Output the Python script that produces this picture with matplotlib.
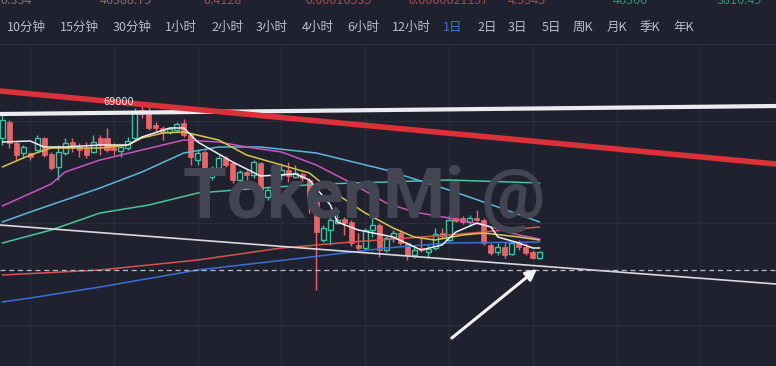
import matplotlib
matplotlib.use('Agg')
import matplotlib.pyplot as plt
from matplotlib.patches import Rectangle
from matplotlib.lines import Line2D
import numpy as np

W, H, DPI = 776, 366, 100
BG = '#20212e'
CJK = ['Noto Sans CJK SC', 'DejaVu Sans']

# ---------------- data ----------------
opens = [65500, 67100, 65000, 64000, 64000, 64300, 65500, 63900, 62600, 64000,
         65100, 64600, 64500, 64100, 65500, 65500, 64600, 64200, 64500, 65500,
         68300, 68000, 66800, 66500, 66100, 66300, 67000, 65800, 63300, 64100,
         61600, 62500, 63500, 63000, 61300, 62100, 61800, 63000, 59600, 60300,
         61800, 62300, 61600, 61900, 61300, 59500, 55300, 56300, 57000, 57400,
         57100, 54800, 54500, 56300, 56800, 54300, 55500, 56000, 55000, 53800,
         54500, 54100, 54500, 56000, 55300, 57500, 57500, 57100, 57500, 57300,
         54800, 54100, 54600, 53900, 55000, 54600, 54100, 53500]
highs = [67800, 67300, 65100, 64800, 64100, 65800, 65600, 64100, 64800, 65500,
         65500, 65000, 65100, 65800, 65800, 66500, 65000, 64800, 65600, 68500,
         69100, 68900, 67100, 66700, 66600, 67100, 67400, 66000, 64300, 64300,
         62700, 63800, 63700, 63100, 62300, 62300, 63300, 63100, 60600, 62300,
         63000, 63100, 62800, 62100, 61500, 59600, 56800, 58300, 58300, 57600,
         57300, 56000, 56500, 57500, 57000, 55700, 56300, 56300, 55100, 54800,
         55500, 54800, 56500, 56500, 57800, 58300, 57700, 57800, 58300, 57500,
         55000, 55000, 55100, 55200, 55300, 55000, 54300, 54200]
lows = [64800, 64500, 63300, 63500, 63300, 64200, 63600, 62300, 61300, 63800,
        64100, 63600, 63500, 64000, 63800, 64100, 63800, 63600, 64300, 65300,
        67500, 66300, 66100, 65300, 65900, 66100, 65600, 62800, 62800, 61500,
        61300, 61800, 62600, 61000, 61100, 61300, 61500, 59800, 59300, 60000,
        61300, 61100, 61500, 61100, 58000, 50300, 55100, 54800, 56900, 55800,
        54700, 54300, 54300, 55600, 53600, 54100, 55100, 54800, 53300, 53500,
        54100, 53500, 54300, 55500, 55100, 57100, 56900, 56800, 57200, 54800,
        53800, 53800, 53500, 53800, 54300, 53800, 53400, 53400]
closes = [67300, 65000, 63800, 64600, 63600, 65500, 63800, 62500, 64100, 65000,
          64600, 64300, 63800, 65100, 64800, 64300, 64300, 64600, 65200, 68000,
          67900, 66500, 66500, 66100, 66400, 66900, 65800, 63600, 64000, 61600,
          62500, 63500, 62800, 61300, 62100, 61800, 63100, 60300, 60300, 62000,
          62300, 61700, 62000, 61500, 59600, 56100, 56500, 57300, 57300, 57000,
          55000, 54500, 56300, 56800, 54300, 55500, 56000, 55000, 53800, 54300,
          54300, 54400, 55900, 55700, 57300, 57200, 57100, 57500, 57300, 55000,
          54000, 54600, 53800, 55000, 54600, 54000, 53500, 54100]

# moving averages (candle index -> value)
ma_white_idx = [0, 4, 6, 9, 14, 18, 20, 24, 26, 28, 33, 37, 42, 44, 47, 48, 51,
                56, 60, 63, 65, 68, 70, 71, 74, 76, 77]
ma_white_val = [65100, 65200, 64600, 64600, 64800, 64800, 65600, 66500, 66500,
                65100, 63100, 61700, 61900, 61300, 58800, 57100, 56300, 55600,
                54300, 54800, 56100, 57000, 56600, 55600, 55000, 54500, 54500]
ma_yellow_idx = [0, 4, 7, 14, 18, 20, 23, 26, 31, 35, 44, 47, 52, 56, 59, 62, 66,
                 69, 74, 77]
ma_yellow_val = [62600, 63800, 64500, 64500, 64800, 65500, 66000, 66100, 65300,
                 63800, 62000, 60300, 58000, 56500, 55600, 55300, 55800, 56000,
                 55600, 55300]
ma_magenta_idx = [0, 7, 9, 14, 20, 26, 31, 35, 40, 45, 50, 55, 59, 64, 69, 74, 77]
ma_magenta_val = [58700, 60900, 62100, 63300, 64300, 65300, 65100, 64600, 64100,
                  62800, 61000, 59000, 58100, 57500, 56800, 55800, 55400]
ma_cyan_idx = [0, 4, 9, 14, 20, 26, 31, 37, 45, 55, 64, 71, 77]
ma_cyan_val = [57100, 58100, 59300, 60500, 62100, 64000, 64600, 64600, 64000,
               62300, 60300, 58600, 57100]
ma_green_idx = [0, 7, 14, 21, 28, 37, 46, 55, 64, 77]
ma_green_val = [55000, 56300, 58000, 58800, 60000, 60500, 60900, 61100, 61300, 61000]
ma_red_idx = [0, 14, 28, 40, 50, 64, 77]
ma_red_val = [51800, 52300, 53300, 54500, 55100, 55800, 56600]
ma_blue_idx = [0, 4, 14, 28, 43, 55, 64, 77]
ma_blue_val = [49100, 49500, 50600, 52300, 53500, 54500, 55000, 55100]

# drawn trend lines (index, price) and annotations
red_trend = ([-0.33, 110.85], [70200, 62900])
white_trend = ([-0.33, 110.85], [67900, 68700])
thin_trend = ([-0.33, 110.85], [56800, 50900])
dashed_level = 52300
arrow_tail = (64.4, 45500)
arrow_head = (76.6, 52400)
high_label = '69000'

tabs = ['10分钟', '15分钟', '30分钟', '1小时', '2小时', '3小时', '4小时', '6小时',
        '12小时', '1日', '2日', '3日', '5日', '周K', '月K', '季K', '年K']
active_tab = '1日'
top_values = ['0.334', '46388.79', '0.4128', '0.00016535', '0.0000621197',
              '4.9345', '46366', '3816.49']

# ---------------- layout / style ----------------
tab_x = [7, 60, 113, 165, 211, 256, 302, 347, 392, 443, 477, 508, 542, 573, 607, 640, 673]
top_x = [0, 100, 203, 305, 408, 508, 613, 717]
top_col = ['#7d6f78', '#8a6a72', '#a14e55', '#a14e55', '#a14e55', '#a14e55',
           '#3b8a72', '#3b8a72']

fig = plt.figure(figsize=(W / DPI, H / DPI), dpi=DPI)
fig.patch.set_facecolor(BG)

def fx(px):
    return px / W

def fy(py):
    return 1 - py / H

# top row of values (cut at the top edge, as in the source screenshot)
for t, x, c in zip(top_values, top_x, top_col):
    fig.text(fx(x), fy(0), t, color=c, fontsize=9, ha='left', va='center',
             family=CJK)

# tabs
for t, x in zip(tabs, tab_x):
    col = '#3f72cf' if t == active_tab else '#b9bdcc'
    fig.text(fx(x), fy(27), t, color=col, fontsize=9, ha='left', va='center',
             family=CJK)

fig.add_artist(Line2D([0, 1], [fy(44), fy(44)], color='#2b2e3d', lw=1.0))

# chart axes
top_px = 47
ax = fig.add_axes([0, 0, 1, (H - top_px) / H])
ax.set_facecolor(BG)
ax.set_xlim(-0.33, 110.85)
ax.set_ylim((793 - 366) * 100, (793 - top_px) * 100)
ax.axis('off')

# grid
for gx in np.arange(4, 111, 12):
    ax.axvline(gx, color='#2a2c3a', lw=0.9, zorder=0)
for gy in [67200, 57000, 46800]:
    ax.axhline(gy, color='#2a2c3a', lw=0.9, zorder=0)

# watermark
wm = fig.text(fx(183), fy(218), 'TokenMi @', color='#434553', fontsize=48,
              fontweight='bold', family='Roboto', ha='left', va='baseline',
              zorder=0.5)
fig.canvas.draw()
bb = wm.get_window_extent(renderer=fig.canvas.get_renderer())
wm.set_fontsize(48 * 362 / bb.width)

# candles
up_col = '#3ec0a0'
dn_col = '#e8666b'
bw = 0.72
for i, (o, h, l, c) in enumerate(zip(opens, highs, lows, closes)):
    col = up_col if c >= o else dn_col
    ax.vlines(i, l, h, color=col, lw=1.0, zorder=3)
    lo, hi = min(o, c), max(o, c)
    if hi - lo < 100:
        hi = lo + 100
    if c >= o:
        ax.add_patch(Rectangle((i - bw / 2, lo), bw, hi - lo, facecolor=BG,
                               edgecolor=col, lw=1.0, zorder=3.5))
    else:
        ax.add_patch(Rectangle((i - bw / 2, lo), bw, hi - lo, facecolor=col,
                               edgecolor=col, lw=0.5, zorder=3.5))

# moving averages
mas = [
    (ma_blue_idx, ma_blue_val, '#3a6fd4'),
    (ma_red_idx, ma_red_val, '#d9534f'),
    (ma_green_idx, ma_green_val, '#45c79c'),
    (ma_cyan_idx, ma_cyan_val, '#5ab8dc'),
    (ma_magenta_idx, ma_magenta_val, '#c955bd'),
    (ma_yellow_idx, ma_yellow_val, '#d6c64c'),
    (ma_white_idx, ma_white_val, '#eeeeee'),
]
for idx, val, col in mas:
    ax.plot(idx, val, color=col, lw=1.1, zorder=4, solid_capstyle='round')

# trend lines
ax.plot(*thin_trend, color='#d8d8df', lw=1.2, zorder=5)
ax.axhline(dashed_level, color='#b9bccb', lw=0.9, ls=(0, (4, 3)), zorder=5)
ax.plot(*white_trend, color='#ececf0', lw=3.0, zorder=5.5)
ax.plot(*red_trend, color='#dc3138', lw=4.0, zorder=6)

ax.annotate('', xy=arrow_head, xytext=arrow_tail,
            arrowprops=dict(arrowstyle='-|>', color='#f2f2f5', lw=2.2,
                            mutation_scale=16, shrinkA=0, shrinkB=0), zorder=7)

hi_i = int(np.argmax(highs))
ax.text(hi_i - 1.2, highs[hi_i], high_label, color='#e8e8ee', fontsize=7,
        ha='right', va='center', zorder=7)

fig.savefig('out.png', dpi=DPI, facecolor=BG)
